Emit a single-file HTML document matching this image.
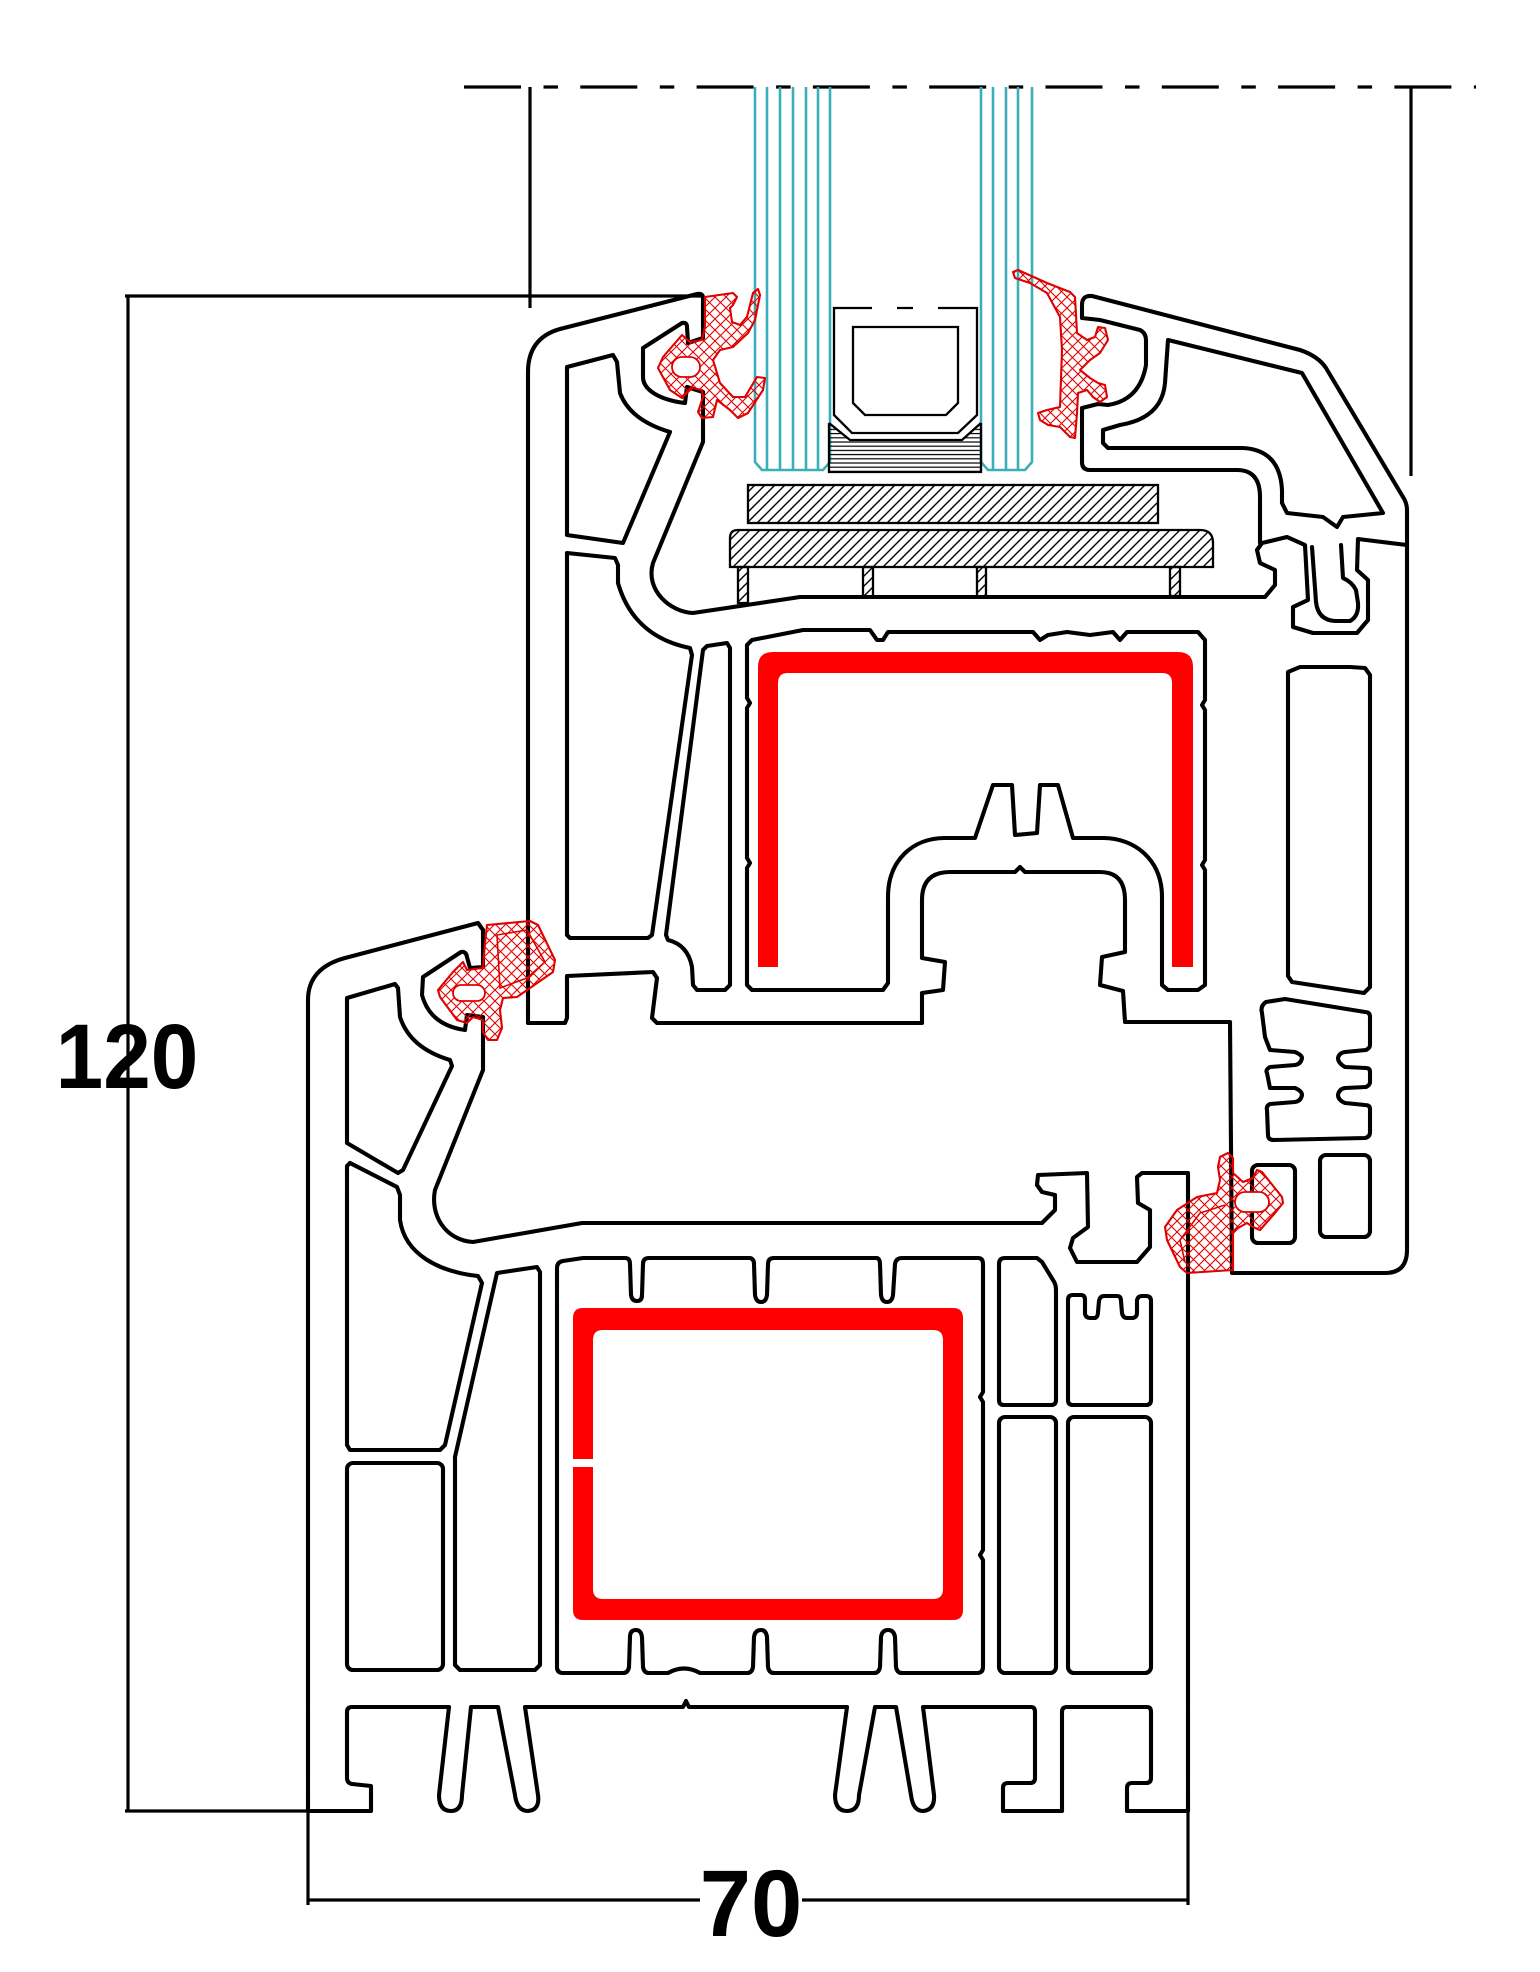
<!DOCTYPE html>
<html>
<head>
<meta charset="utf-8">
<style>
html,body{margin:0;padding:0;background:#fff;}
svg{display:block;}
</style>
</head>
<body>
<svg width="1540" height="1972" viewBox="0 0 1540 1972" xmlns="http://www.w3.org/2000/svg">
<defs>
<pattern id="hatch" patternUnits="userSpaceOnUse" width="10" height="10">
<path d="M-1,11 L11,-1 M-3,3 L3,-3 M7,13 L13,7" stroke="#000" stroke-width="1.4"/>
</pattern>
<pattern id="hz" patternUnits="userSpaceOnUse" width="10" height="4.2">
<path d="M0,1 L10,1" stroke="#000" stroke-width="1.2"/>
</pattern>
<pattern id="xh" patternUnits="userSpaceOnUse" width="11" height="11">
<path d="M-1,12 L12,-1 M-1,-1 L12,12" stroke="#e00000" stroke-width="1.1"/>
</pattern>
</defs>
<rect width="1540" height="1972" fill="#fff"/>

<!-- dimension / reference lines -->
<g stroke="#000" stroke-width="3.2" fill="none">
<path d="M464,87 L1476,87" stroke-dasharray="57 22.5 14.5 22.3"/>
<path d="M530,87 L530,308"/>
<path d="M1411,87 L1411,476"/>
<path d="M125,296 L703,296"/>
<path d="M128,296 L128,1811"/>
<path d="M125,1811 L371,1811"/>
<path d="M308,1811 L308,1905"/>
<path d="M1188,1811 L1188,1905"/>
<path d="M308,1900 L700,1900"/>
<path d="M802,1900 L1188,1900"/>
</g>

<!-- glass -->
<g stroke="#3aafb9" stroke-width="2.6" fill="none">
<path d="M755,87 L755,462 L762,470 L823,470 L830,462 L830,87"/>
<path d="M767,87 L767,470 M780,87 L780,470 M793,87 L793,470 M806,87 L806,470 M818,87 L818,470"/>
<path d="M981,87 L981,462 L988,470 L1025,470 L1032,462 L1032,87"/>
<path d="M993,87 L993,470 M1006,87 L1006,470 M1018,87 L1018,470"/>
</g>

<!-- spacer + sealant -->
<polygon points="829,423 851,441 961,441 981,423 981,472 829,472" fill="url(#hz)"/>
<g stroke="#000" stroke-width="2.3" fill="none">
<path d="M829,423 L850,440 L962,440 L981,423"/>
<path d="M829,423 L829,472 L981,472 L981,423"/>
<path d="M872,308 L834,308 L834,415 L852,433 L958,433 L977,415 L977,308 L938,308 M897,308 L913,308"/>
<path d="M853,327 L958,327 L958,403 L946,415 L865,415 L853,403 Z"/>
</g>

<!-- setting blocks -->
<g stroke="#000" stroke-width="2.3" fill="url(#hatch)">
<rect x="748" y="485" width="410" height="38"/>
<path d="M738,530 L1200,530 Q1213,530 1213,543 L1213,567 L730,567 L730,538 Q730,530 738,530 Z"/>
<rect x="738" y="567" width="10" height="36"/>
<rect x="863" y="567" width="10" height="30"/>
<rect x="977" y="567" width="9" height="30"/>
<rect x="1170" y="567" width="10" height="29"/>
</g>

<!-- red reinforcements -->
<path d="M758,967 L758,667 Q758,652 773,652 L1178,652 Q1193,652 1193,667 L1193,967 L1172,967 L1172,683 Q1172,673 1162,673 L788,673 Q778,673 778,683 L778,967 Z" fill="#ff0000"/>
<path fill="#ff0000" fill-rule="evenodd" d="M583,1308 L953,1308 Q963,1308 963,1318 L963,1610 Q963,1620 953,1620 L583,1620 Q573,1620 573,1610 L573,1318 Q573,1308 583,1308 Z M603,1330 L933,1330 Q943,1330 943,1340 L943,1589 Q943,1599 933,1599 L603,1599 Q593,1599 593,1589 L593,1340 Q593,1330 603,1330 Z"/>
<rect x="570" y="1459" width="26" height="8" fill="#fff"/>

<!-- profiles -->
<g stroke="#000" stroke-width="4.1" fill="none" stroke-linejoin="round" stroke-linecap="round">
<!-- sash outer -->
<path d="M703,338 L703,298 Q703,293 697,294 L560,329 Q528,338 528,372 L528,1023 L565,1023 L567,1018 L567,976 L653,972 L657,978 L652,1018 L657,1023 L922,1023 L922,993 L943,990 L945,962 L922,958 L922,900 Q922,872 950,872 L1015,872 L1020,867 L1025,872 L1100,872 Q1125,872 1125,900 L1125,952 L1102,957 L1100,985 L1123,991 L1125,1022 L1230,1022 L1232,1273 L1385,1273 Q1407,1273 1407,1250 L1407,545 L1358,539 L1357,570 L1368,580 L1368,620 L1357,633 L1313,633 L1293,627 L1293,607 L1308,600 L1305,545 L1287,537 L1262,543 L1257,550 L1260,563 L1275,570 L1275,585 L1265,597 L800,597 L693,613 C670,612 645,590 653,563 L703,442 L703,392 L687,387 L685,403 C660,400 643,390 643,377 L643,348 L682,323 Q687,322 687,327 L688,343 Z"/>
<!-- glazing bead -->
<path d="M1260,543 L1260,497 Q1260,470 1237,470 L1090,470 Q1082,470 1082,462 L1082,408 L1098,404 L1108,405 Q1140,400 1146,365 L1146,340 Q1146,333 1140,330 L1100,320 L1082,318 L1082,305 Q1082,295 1092,296 L1300,350 Q1318,356 1326,368 L1403,497 Q1407,503 1407,510 L1407,545"/>
<path d="M1108,448 L1103,443 L1103,430 L1120,425 Q1162,418 1165,383 L1168,340 L1302,373 L1383,513 L1343,517 L1337,527 L1323,517 L1287,513 L1282,503 L1282,490 Q1280,450 1243,448 Z"/>
<path d="M1312,547 L1316,602 Q1318,620 1335,621 L1350,621 Q1359,616 1358,603 L1356,590 Q1352,582 1343,578 L1341,545"/>
<!-- sash cells -->
<path d="M567,367 L613,355 L617,362 L620,393 Q630,420 670,432 L623,543 L567,535 Z"/>
<path d="M567,553 L615,558 L618,565 L618,583 C630,625 660,642 690,648 L692,655 L652,935 L648,938 L570,938 L567,935 Z"/>
<path d="M703,650 L707,646 L727,643 L730,648 L730,985 L725,990 L697,990 L693,985 L692,967 Q688,945 668,940 L666,935 Z"/>
<path d="M747,645 L752,640 L803,630 L870,630 L877,640 L883,640 L888,632 L1033,632 L1040,640 L1048,635 L1067,632 L1090,635 L1113,632 L1120,640 L1127,632 L1198,632 L1205,640 L1205,700 L1202,705 L1205,710 L1205,860 L1202,865 L1205,870 L1205,985 L1198,990 L1168,990 L1162,985 L1162,897 C1162,860 1135,838 1103,838 L1073,838 L1058,785 L1040,785 L1037,833 L1015,835 L1012,785 L993,785 L975,838 L945,838 C913,838 888,860 888,897 L888,983 L883,990 L752,990 L747,985 L747,868 L750,863 L747,858 L747,708 L750,703 L747,698 Z"/>
<path d="M1288,672 L1300,667 L1350,667 L1365,668 L1370,675 L1370,987 L1364,993 L1292,982 L1288,976 Z"/>
<path d="M1262,1013 L1265,1037 L1270,1050 L1295,1052 Q1302,1055 1302,1058 Q1301,1064 1295,1065 L1270,1067 Q1265,1070 1267,1073 L1270,1088 L1295,1088 Q1302,1091 1302,1095 Q1301,1101 1295,1102 L1270,1104 Q1266,1106 1267,1110 L1268,1135 Q1268,1140 1274,1140 L1365,1138 Q1370,1137 1370,1132 L1370,1109 Q1370,1105 1365,1105 L1345,1103 Q1338,1100 1338,1095 Q1339,1089 1345,1088 L1366,1087 Q1370,1085 1370,1082 L1370,1072 Q1370,1068 1366,1068 L1345,1067 Q1338,1063 1338,1058 Q1339,1053 1345,1052 L1366,1050 Q1370,1048 1370,1045 L1370,1017 Q1370,1012 1365,1012 L1285,999 L1266,1002 Q1260,1006 1262,1013 Z"/>
<rect x="1320" y="1155" width="50" height="82" rx="6"/>
<rect x="1252" y="1165" width="43" height="78" rx="6"/>

<!-- frame outer -->
<path d="M483,930 L478,923 L345,958 Q308,968 308,1000 L308,1811 L371,1811 L371,1786 L352,1784 Q347,1783 347,1778 L347,1712 Q347,1707 352,1707 L449,1707 L439,1795 Q439,1811 451,1811 Q462,1811 462,1795 L471,1707 L498,1707 L515,1795 Q517,1811 528,1811 Q540,1810 538,1795 L525,1707 L683,1707 L686,1701 L689,1707 L847,1707 L835,1795 Q835,1811 847,1811 Q859,1811 859,1795 L875,1707 L896,1707 L911,1795 Q913,1811 923,1811 Q935,1810 934,1795 L923,1707 L1031,1707 Q1035,1707 1035,1712 L1035,1778 Q1035,1783 1030,1783 L1008,1783 Q1003,1783 1003,1788 L1003,1811 L1062,1811 L1062,1712 Q1062,1707 1067,1707 L1147,1707 Q1151,1707 1151,1712 L1151,1778 Q1151,1783 1146,1783 L1132,1783 Q1127,1783 1127,1788 L1127,1811 L1188,1811 L1188,1173 L1142,1173 L1137,1177 L1138,1203 L1150,1210 L1150,1247 L1137,1262 L1077,1262 L1070,1248 L1073,1238 L1088,1227 L1087,1173 L1038,1175 L1037,1185 L1042,1192 L1055,1195 L1055,1210 L1042,1223 L582,1223 L473,1242 C445,1240 430,1215 435,1190 L483,1070 L483,1017 L467,1015 L465,1030 Q430,1025 422,995 L423,977 L461,952 Q466,951 467,957 L470,968 L483,967 Z"/>
<!-- frame cells -->
<path d="M347,998 L395,984 L398,988 L400,1017 Q410,1048 450,1060 L452,1066 L403,1170 L398,1173 L347,1143 Z"/>
<path d="M350,1163 L397,1187 L400,1195 L400,1220 C405,1255 440,1272 478,1276 L482,1283 L445,1445 L440,1450 L350,1450 L347,1445 L347,1166 Z"/>
<rect x="347" y="1463" width="96" height="207" rx="6"/>
<path d="M497,1273 L537,1267 L540,1272 L540,1665 L535,1670 L460,1670 L455,1665 L455,1457 Z"/>
<path d="M557,1268 Q557,1262 563,1261 L583,1258 L625,1258 Q630,1258 630,1264 L631,1295 Q632,1301 637,1301 Q642,1301 642,1295 L643,1264 Q643,1258 649,1258 L750,1258 Q754,1259 754,1264 L755,1295 Q756,1302 761,1302 Q766,1302 767,1295 L768,1264 Q768,1258 774,1258 L877,1258 Q880,1259 880,1264 L881,1295 Q882,1302 887,1302 Q892,1302 893,1295 L895,1264 Q896,1258 902,1258 L978,1258 Q983,1258 983,1264 L983,1392 L980,1397 L983,1402 L983,1550 L980,1555 L983,1560 L983,1667 Q983,1673 977,1673 L902,1673 Q897,1673 896,1667 L895,1637 Q894,1630 888,1630 Q882,1630 881,1637 L880,1667 Q879,1673 874,1673 L774,1673 Q769,1673 768,1667 L767,1637 Q766,1630 761,1630 Q755,1630 754,1637 L753,1667 Q752,1673 747,1673 L700,1673 Q684,1664 668,1673 L649,1673 Q644,1673 643,1667 L642,1637 Q641,1630 636,1630 Q630,1630 630,1637 L629,1667 Q628,1673 623,1673 L563,1673 Q557,1673 557,1667 Z"/>
<path d="M1005,1258 L1037,1258 L1042,1262 L1053,1280 Q1056,1284 1056,1290 L1056,1400 Q1056,1405 1051,1405 L1004,1405 Q999,1405 999,1400 L999,1264 Q999,1258 1005,1258 Z"/>
<path d="M1068,1300 Q1068,1295 1073,1295 L1081,1295 Q1085,1295 1085,1300 L1085,1314 Q1086,1318 1090,1318 L1095,1318 Q1098,1317 1098,1312 L1099,1301 Q1100,1296 1104,1296 L1117,1296 Q1121,1296 1121,1301 L1122,1313 Q1123,1318 1127,1318 L1133,1318 Q1137,1317 1137,1313 L1137,1300 Q1138,1296 1142,1296 L1146,1296 Q1151,1296 1151,1301 L1151,1400 Q1151,1405 1146,1405 L1073,1405 Q1068,1405 1068,1400 Z"/>
<rect x="999" y="1417" width="57" height="256" rx="6"/>
<rect x="1068" y="1417" width="83" height="256" rx="6"/>
</g>

<!-- gaskets -->
<g stroke="#e00000" stroke-width="2.1" fill="url(#xh)" stroke-linejoin="round">
<path d="M705,297 L733,293 L737,297 L733,305 L730,308 L732,322 L740,325 L747,317 L753,293 L758,289 L760,295 L755,320 L748,333 L733,347 L720,350 L713,360 L720,383 L733,397 L745,397 L757,377 L765,378 L763,390 L748,413 L738,418 L730,410 L717,400 L713,417 L702,418 L698,412 L703,397 L702,390 L692,388 L682,398 L670,390 L658,368 L663,357 L682,335 L690,342 L702,340 L705,327 Z"/>
<path d="M1013,272 L1018,270 L1047,283 L1070,292 L1075,297 L1077,333 L1087,340 L1095,337 L1098,327 L1105,328 L1108,340 L1100,353 L1090,360 L1080,370 L1090,378 L1098,383 L1105,385 L1107,397 L1100,402 L1093,397 L1087,390 L1078,393 L1077,413 L1075,438 L1070,437 L1060,427 L1048,425 L1040,420 L1038,413 L1047,410 L1060,407 L1062,350 L1060,317 L1047,293 L1030,283 L1015,278 Z"/>
<path d="M487,925 L530,921 L538,925 L555,960 L553,972 L530,988 L517,997 L503,998 L500,1010 L502,1028 L497,1040 L488,1040 L483,1032 L483,1020 L473,1017 L467,1023 L457,1020 L440,997 L438,990 L453,972 L463,962 L467,970 L483,968 L485,943 Z"/>
<path d="M1220,1157 L1228,1153 L1233,1158 L1233,1173 L1243,1182 L1253,1178 L1257,1170 L1262,1172 L1282,1197 L1283,1203 L1275,1213 L1260,1230 L1253,1227 L1247,1223 L1238,1228 L1233,1233 L1233,1270 L1187,1273 L1180,1267 L1167,1240 L1165,1227 L1177,1210 L1197,1197 L1217,1193 L1220,1180 L1218,1167 Z"/>
</g>
<g stroke="#e00000" stroke-width="1.8" fill="#fff">
<rect x="672" y="357" width="28" height="20" rx="10"/>
<rect x="453" y="985" width="32" height="16" rx="8"/>
<rect x="1235" y="1192" width="34" height="20" rx="10"/>
</g>
<g stroke="#e00000" stroke-width="1.6" fill="none">
<path d="M497,935 L527,930 L545,962 L527,978 L500,988 Z"/>
<path d="M1185,1262 L1180,1240 L1200,1213 L1225,1205"/>
</g>

<!-- labels -->
<text transform="translate(127,1088) scale(0.93,1)" x="0" y="0" text-anchor="middle" font-family="Liberation Sans, Arial, sans-serif" font-weight="bold" font-size="92" fill="#000">120</text>
<text transform="translate(751,1936) scale(0.97,1)" x="0" y="0" text-anchor="middle" font-family="Liberation Sans, Arial, sans-serif" font-weight="bold" font-size="95" fill="#000">70</text>
</svg>
</body>
</html>
